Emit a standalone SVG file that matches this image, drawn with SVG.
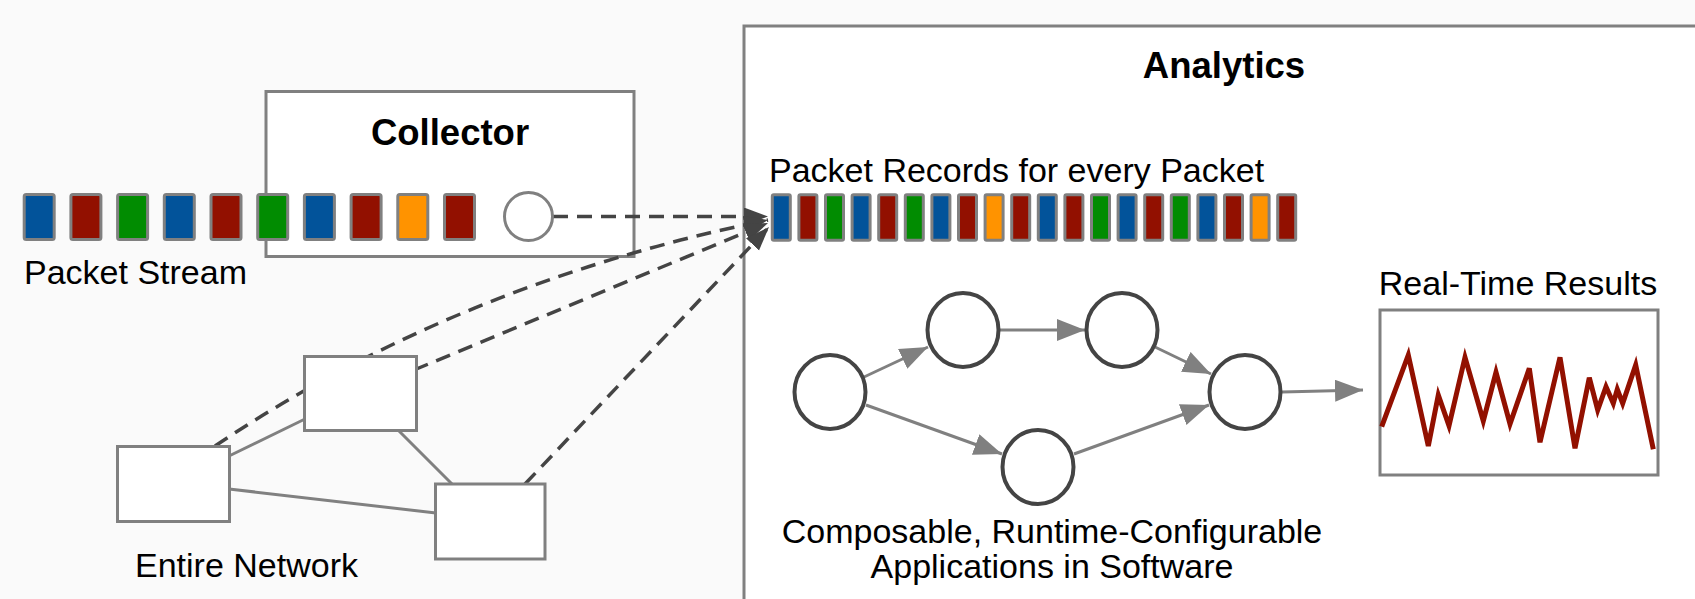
<svg xmlns="http://www.w3.org/2000/svg" width="1695" height="599" viewBox="0 0 1695 599">
<defs>
<style>
.t{font-family:"Liberation Sans",Arial,Helvetica,sans-serif;font-size:34px;fill:#000}
.b{font-weight:bold;font-size:36.5px}
.box{fill:#fff;stroke:#808080;stroke-width:3}
.pk{stroke:#808080;stroke-width:3}
.bl{fill:#02539a}.rd{fill:#921000}.gr{fill:#018c01}.or{fill:#ff9300}
.dash{fill:none;stroke:#444;stroke-width:3.5;stroke-dasharray:15 9}
.link{fill:none;stroke:#808080;stroke-width:3}
.arr{fill:none;stroke:#808080;stroke-width:3}
.op{fill:#fff;stroke:#444;stroke-width:4}
</style>
<marker id="ad" markerUnits="userSpaceOnUse" markerWidth="26" markerHeight="20" refX="24" refY="9" orient="auto" viewBox="0 0 26 20">
<path d="M0,0 L24,9 L0,18 z" fill="#444"/>
</marker>
<marker id="ag" markerUnits="userSpaceOnUse" markerWidth="30" markerHeight="24" refX="28" refY="11" orient="auto" viewBox="0 0 30 24">
<path d="M0,0 L28,11 L0,22 z" fill="#808080"/>
</marker>
</defs>
<rect x="0" y="0" width="1695" height="599" fill="#fafafa"/>
<g id="analytics">
<rect class="box" x="744" y="26" width="1000" height="700"/>
<text class="t b" x="1224" y="78" text-anchor="middle">Analytics</text>
</g>
<g id="collector">
<rect class="box" x="266" y="91.5" width="368" height="165"/>
<text class="t b" x="450" y="145" text-anchor="middle">Collector</text>
</g>
<g id="connectors">
<path class="dash" d="M553,216.5 L768,216.5" marker-end="url(#ad)"/>
<path class="dash" d="M215,446 Q458,283 768,220" marker-end="url(#ad)"/>
<path class="dash" d="M414,370 L768,223" marker-end="url(#ad)"/>
<path class="dash" d="M525,484 L769,227" marker-end="url(#ad)"/>
<path class="link" d="M229,456 L305,419"/>
<path class="link" d="M229,489 L436,513"/>
<path class="link" d="M398,430 L452,484"/>
<path class="arr" d="M864,377 L928,347" marker-end="url(#ag)"/>
<path class="arr" d="M999,330 L1085,330" marker-end="url(#ag)"/>
<path class="arr" d="M1155,347 L1211,374" marker-end="url(#ag)"/>
<path class="arr" d="M866,405 L1002,454" marker-end="url(#ag)"/>
<path class="arr" d="M1074,454 L1209,405" marker-end="url(#ag)"/>
<path class="arr" d="M1282,392 L1363,390" marker-end="url(#ag)"/>
</g>
<g id="collector-port">
<circle cx="528.5" cy="216.5" r="24" fill="#fff" stroke="#808080" stroke-width="3"/>
</g>
<g id="packet-stream">
<rect class="pk bl" x="24.2" y="194.5" width="30" height="45" rx="2"/>
<rect class="pk rd" x="70.9" y="194.5" width="30" height="45" rx="2"/>
<rect class="pk gr" x="117.6" y="194.5" width="30" height="45" rx="2"/>
<rect class="pk bl" x="164.3" y="194.5" width="30" height="45" rx="2"/>
<rect class="pk rd" x="211" y="194.5" width="30" height="45" rx="2"/>
<rect class="pk gr" x="257.7" y="194.5" width="30" height="45" rx="2"/>
<rect class="pk bl" x="304.4" y="194.5" width="30" height="45" rx="2"/>
<rect class="pk rd" x="351.1" y="194.5" width="30" height="45" rx="2"/>
<rect class="pk or" x="397.8" y="194.5" width="30" height="45" rx="2"/>
<rect class="pk rd" x="444.5" y="194.5" width="30" height="45" rx="2"/>
<text class="t" x="24" y="284">Packet Stream</text>
</g>
<g id="net-a"><rect class="box" x="117.5" y="446.5" width="112" height="75"/></g>
<g id="net-b"><rect class="box" x="304.5" y="356.5" width="112" height="74"/></g>
<g id="net-c"><rect class="box" x="435.5" y="484" width="109.5" height="75"/></g>
<g id="net-label"><text class="t" x="135" y="577">Entire Network</text></g>
<g id="packet-records">
<text class="t" x="769" y="182">Packet Records for every Packet</text>
<rect class="pk bl" x="772.3" y="194.8" width="18" height="45.5" rx="1.5"/>
<rect class="pk rd" x="798.9" y="194.8" width="18" height="45.5" rx="1.5"/>
<rect class="pk gr" x="825.5" y="194.8" width="18" height="45.5" rx="1.5"/>
<rect class="pk bl" x="852.1" y="194.8" width="18" height="45.5" rx="1.5"/>
<rect class="pk rd" x="878.7" y="194.8" width="18" height="45.5" rx="1.5"/>
<rect class="pk gr" x="905.3" y="194.8" width="18" height="45.5" rx="1.5"/>
<rect class="pk bl" x="931.9" y="194.8" width="18" height="45.5" rx="1.5"/>
<rect class="pk rd" x="958.5" y="194.8" width="18" height="45.5" rx="1.5"/>
<rect class="pk or" x="985.1" y="194.8" width="18" height="45.5" rx="1.5"/>
<rect class="pk rd" x="1011.7" y="194.8" width="18" height="45.5" rx="1.5"/>
<rect class="pk bl" x="1038.3" y="194.8" width="18" height="45.5" rx="1.5"/>
<rect class="pk rd" x="1064.9" y="194.8" width="18" height="45.5" rx="1.5"/>
<rect class="pk gr" x="1091.5" y="194.8" width="18" height="45.5" rx="1.5"/>
<rect class="pk bl" x="1118.1" y="194.8" width="18" height="45.5" rx="1.5"/>
<rect class="pk rd" x="1144.7" y="194.8" width="18" height="45.5" rx="1.5"/>
<rect class="pk gr" x="1171.3" y="194.8" width="18" height="45.5" rx="1.5"/>
<rect class="pk bl" x="1197.9" y="194.8" width="18" height="45.5" rx="1.5"/>
<rect class="pk rd" x="1224.5" y="194.8" width="18" height="45.5" rx="1.5"/>
<rect class="pk or" x="1251.1" y="194.8" width="18" height="45.5" rx="1.5"/>
<rect class="pk rd" x="1277.7" y="194.8" width="18" height="45.5" rx="1.5"/>
</g>
<g id="op1"><ellipse class="op" cx="830" cy="392" rx="35.5" ry="37"/></g>
<g id="op2"><ellipse class="op" cx="963" cy="330" rx="35.5" ry="37"/></g>
<g id="op3"><ellipse class="op" cx="1122" cy="330" rx="35.5" ry="37"/></g>
<g id="op4"><ellipse class="op" cx="1245" cy="392" rx="35.5" ry="37"/></g>
<g id="op5"><ellipse class="op" cx="1038" cy="467" rx="35.5" ry="37"/></g>
<g id="apps-label">
<text class="t" x="1052" y="543" text-anchor="middle">Composable, Runtime-Configurable</text>
<text class="t" x="1052" y="578" text-anchor="middle">Applications in Software</text>
</g>
<g id="results">
<text class="t" x="1518" y="295" text-anchor="middle">Real-Time Results</text>
<rect class="box" x="1380" y="310" width="278" height="165"/>
<polyline fill="none" stroke="#921000" stroke-width="5" stroke-linejoin="miter" points="1381.7,426.7 1408.3,355 1428.3,446 1438.3,395 1449,425.7 1465,357.3 1483.3,421 1496,372.3 1510,424 1529.3,368.3 1540,442.3 1560,357.3 1575,448.3 1589.3,377.7 1597.7,410 1606,386.7 1613.3,403.3 1617.3,389.3 1622.7,403.3 1635.7,365 1653.3,449.3"/>
</g>
</svg>
